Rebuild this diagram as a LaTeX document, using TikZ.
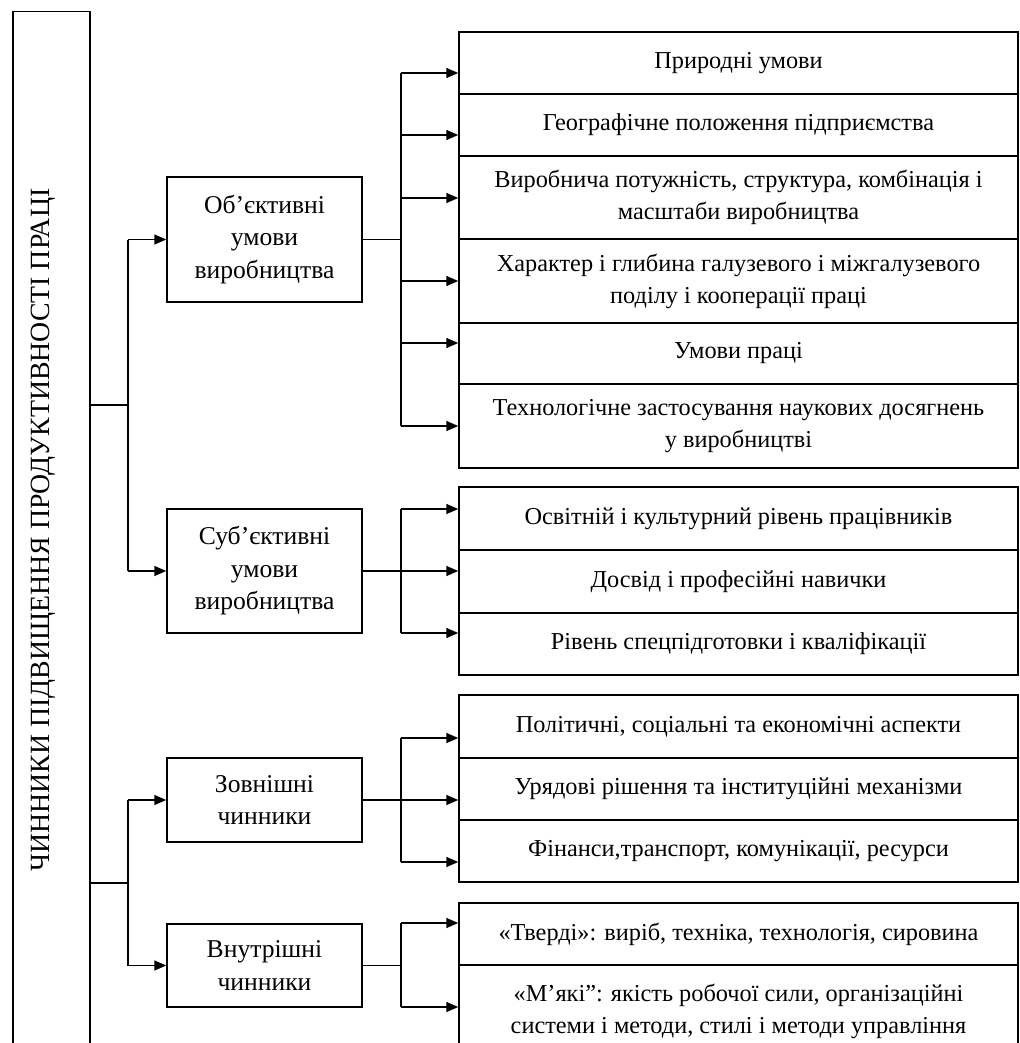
\documentclass[tikz,border=0pt]{standalone}
\usepackage{fontspec}
\setmainfont{Liberation Serif}
\usetikzlibrary{arrows.meta}
\begin{document}
\begin{tikzpicture}[x=1pt,y=-1pt,
  line width=1.5pt,
  box/.style={draw, inner sep=0pt, align=center},
  midbox/.style={box, minimum width=195pt, font=\fontsize{25.6}{32.5}\selectfont},
  rowbox/.style={box, minimum width=559pt, font=\fontsize{24.3}{32}\selectfont},
  arr/.style={-{Triangle[length=12pt,width=10pt]}}]
\useasboundingbox (0,0) rectangle (1019,1043);
\clip (0,0) rectangle (1019,1043);

% title column
\node[draw, inner sep=0pt, minimum width=77pt, minimum height=1060pt, anchor=north west] (main) at (12,11) {};
\node[rotate=90, font=\fontsize{27.8}{32}\selectfont] (title) at (43,530) {ЧИННИКИ ПІДВИЩЕННЯ ПРОДУКТИВНОСТІ ПРАЦІ};

% middle column
\node[midbox, minimum height=125pt] (obj) at (264.5,239.5) {Об’єктивні\\умови\\виробництва};
\node[midbox, minimum height=124pt] (subj) at (264.5,571) {Суб’єктивні\\умови\\виробництва};
\node[midbox, minimum height=84pt] (ext) at (264.5,800) {Зовнішні\\чинники};
\node[midbox, minimum height=83pt] (int) at (264.5,965.5) {Внутрішні\\чинники};

% right column: objective conditions
\node[rowbox, minimum height=62pt] (r1) at (738.5,63) {Природні умови};
\node[rowbox, minimum height=62pt] (r2) at (738.5,125) {Географічне положення підприємства};
\node[rowbox, minimum height=83pt] (r3) at (738.5,197.5) {Виробнича потужність, структура, комбінація і\\масштаби виробництва};
\node[rowbox, minimum height=84pt] (r4) at (738.5,281) {Характер і глибина галузевого і міжгалузевого\\поділу і кооперації праці};
\node[rowbox, minimum height=61pt] (r5) at (738.5,353.5) {Умови праці};
\node[rowbox, minimum height=84pt] (r6) at (738.5,426) {Технологічне застосування наукових досягнень\\у виробництві};

% right column: subjective conditions
\node[rowbox, minimum height=63pt] (s1) at (738.5,518.5) {Освітній і культурний рівень працівників};
\node[rowbox, minimum height=63pt] (s2) at (738.5,581.5) {Досвід і професійні навички};
\node[rowbox, minimum height=62pt] (s3) at (738.5,644) {Рівень спецпідготовки і кваліфікації};

% right column: external factors
\node[rowbox, minimum height=63pt] (e1) at (738.5,726.5) {Політичні, соціальні та економічні аспекти};
\node[rowbox, minimum height=62pt] (e2) at (738.5,789) {Урядові рішення та інституційні механізми};
\node[rowbox, minimum height=62pt] (e3) at (738.5,851) {Фінанси,транспорт, комунікації, ресурси};

% right column: internal factors
\node[rowbox, minimum height=62pt] (i1) at (738.5,934) {«Тверді»: виріб, техніка, технологія, сировина};
\node[rowbox, minimum height=92pt] (i2) at (738.5,1011) {«М’які”: якість робочої сили, організаційні\\системи і методи, стилі і методи управління};

% junctions
\coordinate (ja) at (128,405);
\coordinate (jb) at (128,883);

\draw (main.east |- ja) -- (ja);
\draw (ja) -- (ja |- obj.west) (ja) -- (ja |- subj.west);
\draw[arr] (ja |- obj.west) -- (obj.west);
\draw[arr] (ja |- subj.west) -- (subj.west);

\draw (main.east |- jb) -- (jb);
\draw (jb) -- (jb |- ext.west) (jb) -- (jb |- int.west);
\draw[arr] (jb |- ext.west) -- (ext.west);
\draw[arr] (jb |- int.west) -- (int.west);

% bus for objective conditions
\coordinate (a1) at (401,73);
\coordinate (a2) at (401,135);
\coordinate (a3) at (401,198);
\coordinate (a4) at (401,281);
\coordinate (a5) at (401,343);
\coordinate (a6) at (401,426);
\draw (obj.east) -- (obj.east -| a1);
\draw (a1) -- (a6);
\foreach \c/\n in {a1/r1,a2/r2,a3/r3,a4/r4,a5/r5,a6/r6}
  \draw[arr] (\c) -- (\c -| \n.west);

% bus for subjective conditions
\coordinate (b1) at (401,509);
\coordinate (b3) at (401,633);
\draw (subj.east) -- (subj.east -| b1);
\draw (b1) -- (b3);
\draw[arr] (b1) -- (b1 -| s1.west);
\draw[arr] (subj.east -| b1) -- (s2.west |- subj.east);
\draw[arr] (b3) -- (b3 -| s3.west);

% bus for external factors
\coordinate (c1) at (401,738);
\coordinate (c3) at (401,862);
\draw (ext.east) -- (ext.east -| c1);
\draw (c1) -- (c3);
\draw[arr] (c1) -- (c1 -| e1.west);
\draw[arr] (ext.east -| c1) -- (e2.west |- ext.east);
\draw[arr] (c3) -- (c3 -| e3.west);

% bus for internal factors
\coordinate (d1) at (401,923);
\coordinate (d2) at (401,1007);
\draw (int.east) -- (int.east -| d1);
\draw (d1) -- (d2);
\draw[arr] (d1) -- (d1 -| i1.west);
\draw[arr] (d2) -- (d2 -| i2.west);
\end{tikzpicture}
\end{document}
